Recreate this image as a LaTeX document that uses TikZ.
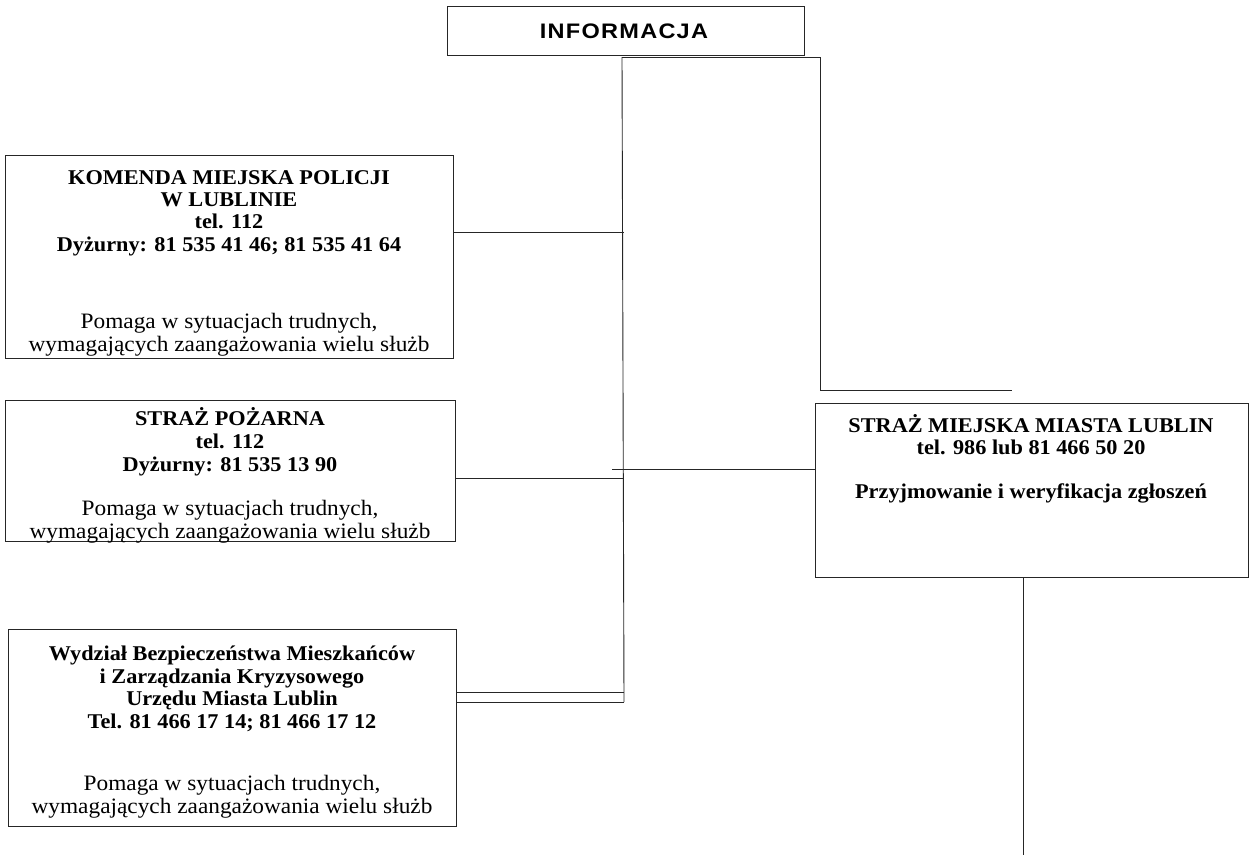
\documentclass[tikz,border=0pt]{standalone}
\usepackage{fontspec}
\setmainfont{Liberation Serif}[FakeStretch=1.06]
\newfontfamily\infofont{Liberation Sans}[FakeStretch=1.12,LetterSpace=6]
\usetikzlibrary{calc}
\begin{document}
\begin{tikzpicture}[x=1pt,y=-1pt,
  box/.style={draw=black!85,line width=0.8pt,rectangle,inner sep=0pt},
  conn/.style={draw=black!85,line width=0.9pt},
  bt/.style={font=\bfseries\fontsize{21}{23}\selectfont,inner sep=0pt,anchor=base},
  rt/.style={font=\fontsize{22}{24}\selectfont,inner sep=0pt,anchor=base}]
\useasboundingbox (0,0) rectangle (1255,855);

% boxes
\node[box,minimum width=357pt,minimum height=49pt] (info) at (625.5,30.5) {};
\node[font=\infofont\bfseries\fontsize{21}{23}\selectfont,inner sep=0pt] (infot) at (624,31) {INFORMACJA};

\node[box,minimum width=448pt,minimum height=203pt] (kmp) at (229,256.5) {};
\node[bt] (k1) at (229,184) {KOMENDA MIEJSKA POLICJI};
\node[bt] (k2) at (229,206) {W LUBLINIE};
\node[bt] (k3) at (229,228) {tel. 112};
\node[bt] (k4) at (229,251) {Dyżurny: 81 535 41 46; 81 535 41 64};
\node[rt] (k5) at (229,328) {Pomaga w sytuacjach trudnych,};
\node[rt] (k6) at (229,351) {wymagających zaangażowania wielu służb};

\node[box,minimum width=450pt,minimum height=141pt] (sp) at (230,470.5) {};
\node[bt] (p1) at (230,425) {STRAŻ POŻARNA};
\node[bt] (p2) at (230,448) {tel. 112};
\node[bt] (p3) at (230,471) {Dyżurny: 81 535 13 90};
\node[rt] (p4) at (230,515) {Pomaga w sytuacjach trudnych,};
\node[rt] (p5) at (230,538) {wymagających zaangażowania wielu służb};

\node[box,minimum width=448pt,minimum height=197pt] (wbm) at (232,727.5) {};
\node[bt] (w1) at (232,660) {Wydział Bezpieczeństwa Mieszkańców};
\node[bt] (w2) at (232,683) {i Zarządzania Kryzysowego};
\node[bt] (w3) at (232,705) {Urzędu Miasta Lublin};
\node[bt] (w4) at (232,728) {Tel. 81 466 17 14; 81 466 17 12};
\node[rt] (w5) at (232,790) {Pomaga w sytuacjach trudnych,};
\node[rt] (w6) at (232,813) {wymagających zaangażowania wielu służb};

\node[box,minimum width=433pt,minimum height=174pt] (smm) at (1031.5,490) {};
\node[bt] (m1) at (1031,432) {STRAŻ MIEJSKA MIASTA LUBLIN};
\node[bt] (m2) at (1031,454) {tel. 986 lub 81 466 50 20};
\node[bt] (m3) at (1031,498) {Przyjmowanie i weryfikacja zgłoszeń};

% connector coordinates
\coordinate (top) at (622,57);
\coordinate (bot) at (624,702);
\coordinate (c1) at (820,57);
\coordinate (c2) at (820,390);
\coordinate (c3) at (1012,390);
\coordinate (s1) at (624,232);
\coordinate (s2) at (624,478);
\coordinate (s3) at (624,692);
\coordinate (r0) at (612,469);
\coordinate (b0) at (1023,855);

% connectors
\draw[conn] (top) -- (bot);
\draw[conn] (top) -- (c1) -- (c2) -- (c3);
\draw[conn] (kmp.east |- s1) -- (s1);
\draw[conn] (sp.east |- s2) -- (s2);
\draw[conn] (wbm.east |- s3) -- (s3);
\draw[conn] (wbm.east |- bot) -- (bot);
\draw[conn] (r0) -- (r0 -| smm.west);
\draw[conn] (b0 |- smm.south) -- (b0);
\end{tikzpicture}
\end{document}
